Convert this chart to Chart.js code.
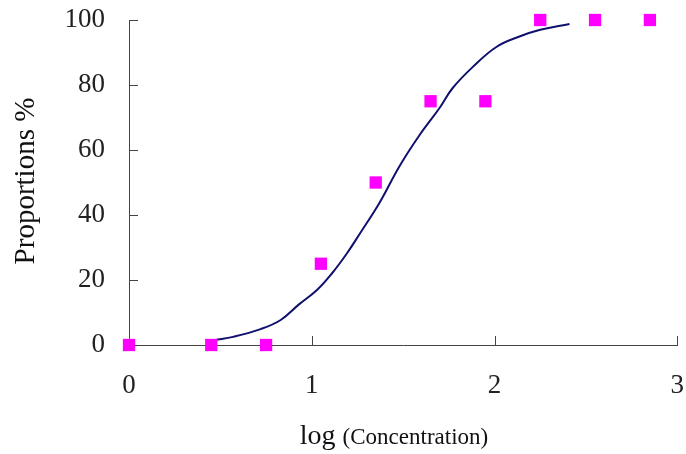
<!DOCTYPE html>
<html>
<head>
<meta charset="utf-8">
<script src="https://cdn.jsdelivr.net/npm/chart.js@4.4.1/dist/chart.umd.min.js"></script>
<style>
  html, body { margin: 0; padding: 0; background: #fff; }
  #wrap { width: 686px; height: 454px; }
</style>
</head>
<body>
<div id="wrap"><canvas id="chart"></canvas></div>
<script>
// observed proportions
const logConc = [0, 0.45, 0.75, 1.05, 1.35, 1.65, 1.95, 2.25, 2.55, 2.85];
const proportions = [0, 0, 0, 25, 50, 75, 75, 100, 100, 100];

// fitted curve
const fitX = [0.47, 0.57, 0.72, 0.83, 0.93, 1.03, 1.11, 1.19, 1.26, 1.37, 1.48, 1.59, 1.70, 1.77, 1.88, 2.01, 2.14, 2.25, 2.41];
const fitY = [1.5, 2.5, 4.9, 7.7, 12.5, 17, 22, 28, 34, 43.7, 55, 64.6, 73, 79, 85.5, 91.7, 95, 97, 98.8];

const xTicks = [0, 1, 2, 3];
const yTicks = [0, 20, 40, 60, 80, 100];

const serif = '"Liberation Serif", "Times New Roman", serif';
const axisColor = '#444';

// inward tick marks and axis titles
const decorations = {
  id: 'decorations',
  afterDraw(chart) {
    const { ctx, chartArea, scales } = chart;
    ctx.save();
    ctx.strokeStyle = axisColor;
    ctx.lineWidth = 1;
    ctx.beginPath();
    yTicks.slice(1).forEach(v => {
      const y = Math.round(scales.y.getPixelForValue(v)) + 0.5;
      ctx.moveTo(chartArea.left, y);
      ctx.lineTo(chartArea.left + 9, y);
    });
    xTicks.slice(1).forEach(v => {
      const x = Math.round(scales.x.getPixelForValue(v)) + 0.5;
      ctx.moveTo(x, chartArea.bottom);
      ctx.lineTo(x, chartArea.bottom - 9);
    });
    ctx.stroke();

    ctx.fillStyle = '#111';
    ctx.textBaseline = 'alphabetic';
    ctx.textAlign = 'left';
    const part1 = 'log ';
    const part2 = '(Concentration)';
    ctx.font = '28px ' + serif;
    const w1 = ctx.measureText(part1).width;
    ctx.font = '23px ' + serif;
    const w2 = ctx.measureText(part2).width;
    const startX = 394 - (w1 + w2) / 2;
    ctx.font = '28px ' + serif;
    ctx.fillText(part1, startX, 444);
    ctx.font = '23px ' + serif;
    ctx.fillText(part2, startX + w1, 444);

    ctx.translate(26, 181);
    ctx.rotate(-Math.PI / 2);
    ctx.textAlign = 'center';
    ctx.textBaseline = 'middle';
    ctx.font = '29px ' + serif;
    ctx.fillText('Proportions %', 0, 0);
    ctx.restore();
  }
};

new Chart(document.getElementById('chart'), {
  type: 'scatter',
  data: {
    datasets: [
      {
        label: 'Observed',
        data: logConc.map((x, i) => ({ x, y: proportions[i] })),
        pointStyle: 'rect',
        pointRadius: 8.7,
        pointBackgroundColor: '#ff00ff',
        pointBorderWidth: 0,
        clip: false,
        order: 1
      },
      {
        label: 'Fitted',
        type: 'line',
        data: fitX.map((x, i) => ({ x, y: fitY[i] })),
        borderColor: '#10106e',
        borderWidth: 2,
        pointRadius: 0,
        tension: 0.4,
        fill: false,
        order: 2
      }
    ]
  },
  options: {
    responsive: true,
    maintainAspectRatio: false,
    animation: false,
    layout: { padding: { top: 20, right: 8, left: 0, bottom: 0 } },
    plugins: {
      legend: { display: false },
      tooltip: { enabled: false }
    },
    scales: {
      x: {
        type: 'linear',
        min: 0,
        max: 3,
        afterBuildTicks: axis => { axis.ticks = xTicks.map(v => ({ value: v })); },
        afterFit: axis => {
          axis.height = 109;
          axis.paddingLeft = 0;
          axis.paddingRight = 0;
        },
        grid: { display: false, drawTicks: false },
        border: { display: true, color: axisColor, width: 1 },
        ticks: {
          padding: 25,
          color: '#222',
          font: { family: serif, size: 27 }
        }
      },
      y: {
        min: 0,
        max: 100,
        afterBuildTicks: axis => { axis.ticks = yTicks.map(v => ({ value: v })); },
        afterFit: axis => {
          axis.width = 129;
          axis.paddingTop = 0;
          axis.paddingBottom = 0;
        },
        grid: { display: false, drawTicks: false },
        border: { display: true, color: axisColor, width: 1 },
        ticks: {
          padding: 24,
          color: '#222',
          font: { family: serif, size: 27 }
        }
      }
    }
  },
  plugins: [decorations]
});
</script>
</body>
</html>
